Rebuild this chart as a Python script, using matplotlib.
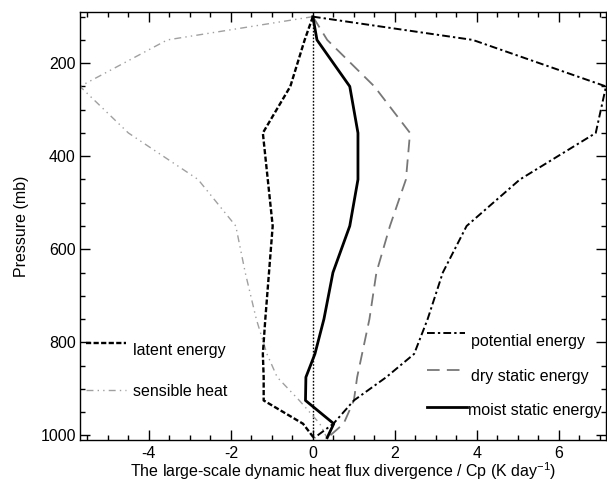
import matplotlib

matplotlib.use("Agg")
import matplotlib.pyplot as plt
from matplotlib.ticker import MultipleLocator

# pressure levels (mb) and heat flux divergence / Cp (K/day)
pressure = [100, 150, 250, 350, 450, 550, 650, 750, 825, 875, 925, 975, 1005]
latent = [0.0, -0.2, -0.55, -1.22, -1.1, -0.98, -1.07, -1.16, -1.22, -1.2, -1.2, -0.24, 0.02]
sensible = [0.0, -3.55, -5.68, -4.5, -2.8, -1.88, -1.65, -1.38, -1.12, -0.87, -0.33, 0.17, 0.34]
potential = [0.0, 3.9, 7.15, 6.9, 5.05, 3.75, 3.17, 2.8, 2.47, 1.79, 1.0, 0.5, 0.04]
dry = [0.0, 0.35, 1.5, 2.37, 2.27, 1.88, 1.55, 1.38, 1.2, 1.08, 1.0, 0.75, 0.36]
moist = [0.0, 0.1, 0.9, 1.1, 1.1, 0.9, 0.49, 0.27, 0.05, -0.17, -0.18, 0.51, 0.35]

x_ticks = [-4, -2, 0, 2, 4, 6]
y_ticks = [200, 400, 600, 800, 1000]

plt.rcParams.update(
    {
        "font.family": "Liberation Sans",
        "font.size": 11.5,
        "axes.unicode_minus": False,
        "mathtext.fontset": "custom",
        "mathtext.rm": "Liberation Sans",
        "mathtext.it": "Liberation Sans",
    }
)

fig = plt.figure(figsize=(6.07, 4.82), dpi=100)
ax = fig.add_axes([80 / 607, 42 / 482, 526 / 607, 428 / 482])

styles = {
    "latent": dict(color="black", lw=1.7, ls=(0, (2.2, 1.0))),
    "sensible": dict(color="#a0a0a0", lw=1.0, ls=(0, (5, 3, 1, 3, 1, 3))),
    "potential": dict(color="black", lw=1.4, ls=(0, (4, 1.6, 1.2, 1.6))),
    "dry": dict(color="#777777", lw=1.3, ls=(0, (7, 4))),
    "moist": dict(color="black", lw=2.0, ls="-"),
}

ax.plot([0, 0], [pressure[0], pressure[-1]], color="black", lw=1.0, ls=(0, (1.2, 1.2)))
ax.plot(sensible, pressure, **styles["sensible"])
ax.plot(latent, pressure, **styles["latent"])
ax.plot(dry, pressure, **styles["dry"])
ax.plot(potential, pressure, **styles["potential"])
ax.plot(moist, pressure, **styles["moist"])

ax.set_xlim(min(sensible), max(potential))
ax.set_ylim(1010, 90)
ax.set_xticks(x_ticks)
ax.set_yticks(y_ticks)
ax.xaxis.set_minor_locator(MultipleLocator(0.5))
ax.yaxis.set_minor_locator(MultipleLocator(50))
ax.tick_params(which="both", direction="in", top=True, right=True, width=1.0)
ax.tick_params(which="major", length=7)
ax.tick_params(which="minor", length=3.5)
ax.tick_params(axis="x", pad=4)
ax.tick_params(axis="y", pad=3)
for sp in ax.spines.values():
    sp.set_linewidth(1.0)

ax.set_xlabel("The large-scale dynamic heat flux divergence / Cp (K day$^{-1}$)", labelpad=0)
ax.set_ylabel("Pressure (mb)", labelpad=8)

# hand-placed legend entries, as in the original figure
left_entries = [("latent", "latent energy", 0.227, 0.210), ("sensible", "sensible heat", 0.117, 0.113)]
for key, label, line_y, text_y in left_entries:
    ax.plot([0.012, 0.088], [line_y, line_y], transform=ax.transAxes, clip_on=False, **styles[key])
    ax.text(0.101, text_y, label, transform=ax.transAxes, va="center", ha="left")

right_entries = [
    ("potential", "potential energy", 0.732, 0.249, 0.743, 0.230),
    ("dry", "dry static energy", 0.722, 0.164, 0.743, 0.148),
    ("moist", "moist static energy", 0.736, 0.078, 0.737, 0.070),
]
for key, label, line_end, line_y, text_x, text_y in right_entries:
    ax.plot([0.659, line_end], [line_y, line_y], transform=ax.transAxes, clip_on=False, **styles[key])
    ax.text(text_x, text_y, label, transform=ax.transAxes, va="center", ha="left")

fig.savefig("out.png", dpi=100)
